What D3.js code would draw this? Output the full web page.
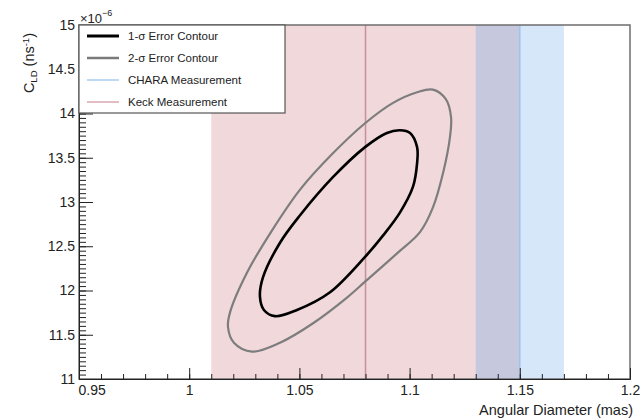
<!DOCTYPE html>
<html>
<head>
<meta charset="utf-8">
<script src="https://cdn.jsdelivr.net/npm/d3@7"></script>
<style>
  body { margin: 0; background: #fff; }
  svg { font-family: "Liberation Sans", Arial, sans-serif; }
  .axis path, .axis line { stroke: #222; }
  .axis text { font-size: 14px; fill: #222; }
</style>
</head>
<body>
<div id="chart"></div>
<script>
// values
var xTicks = [0.95, 1, 1.05, 1.1, 1.15, 1.2];
var yTicks = [11, 11.5, 12, 12.5, 13, 13.5, 14, 14.5, 15];

var keckCenter = 1.08, keckLow = 1.01, keckHigh = 1.15;
var charaCenter = 1.15, charaLow = 1.13, charaHigh = 1.17;

// 1-sigma contour (angular diameter mas, C_LD in 1e-6 ns^-1)
var sigma1Contour = [
  [1.0956, 13.81], [1.0897, 13.78], [1.0798, 13.62], [1.0652, 13.28],
  [1.0503, 12.85], [1.0412, 12.54], [1.0335, 12.15], [1.0321, 11.93],
  [1.0339, 11.78], [1.0389, 11.71], [1.0489, 11.78], [1.0639, 11.98],
  [1.0798, 12.38], [1.0879, 12.62], [1.0956, 12.88], [1.1015, 13.17],
  [1.1034, 13.44], [1.1034, 13.62], [1.1002, 13.78]
];

// 2-sigma contour
var sigma2Contour = [
  [1.1106, 14.27], [1.1034, 14.24], [1.0925, 14.12], [1.0798, 13.89],
  [1.0652, 13.55], [1.0503, 13.14], [1.0376, 12.68], [1.0262, 12.20],
  [1.0185, 11.75], [1.0176, 11.59], [1.0203, 11.41], [1.0285, 11.31],
  [1.0412, 11.41], [1.0562, 11.63], [1.0716, 11.92], [1.0798, 12.10],
  [1.0943, 12.42], [1.1047, 12.66], [1.1106, 12.94], [1.1152, 13.33],
  [1.1183, 13.73], [1.1188, 13.96], [1.1165, 14.16]
];

var legendLabels = ["1-σ Error Contour", "2-σ Error Contour", "CHARA Measurement", "Keck Measurement"];
var legendColors = ["#000000", "#7a7a7a", "#a9cdef", "#d9a9b0"];
var legendWidths = [3, 2.5, 1.5, 1.5];

var width = 642, height = 419;
var margin = {top: 25, right: 12, bottom: 40, left: 79};

var svg = d3.select("#chart").append("svg")
  .attr("width", width)
  .attr("height", height);

var x = d3.scaleLinear().domain([0.95, 1.2]).range([margin.left, width - margin.right]);
var y = d3.scaleLinear().domain([11, 15]).range([height - margin.bottom, margin.top]);

var plotTop = y(15), plotBottom = y(11);

// measurement bands, overlap drawn in its own blended colour
function band(lo, hi, colour) {
  svg.append("rect")
    .attr("x", x(lo)).attr("y", plotTop)
    .attr("width", x(hi) - x(lo)).attr("height", plotBottom - plotTop)
    .attr("fill", colour);
}
band(keckLow, keckHigh, "#f0d8db");
band(charaLow, charaHigh, "#d5e7f8");
band(Math.max(keckLow, charaLow), Math.min(keckHigh, charaHigh), "#c6c9de");

svg.append("line")
  .attr("x1", x(keckCenter)).attr("x2", x(keckCenter))
  .attr("y1", plotTop).attr("y2", plotBottom)
  .attr("stroke", "#c8909a").attr("stroke-width", 1.5);
svg.append("line")
  .attr("x1", x(charaCenter)).attr("x2", x(charaCenter))
  .attr("y1", plotTop).attr("y2", plotBottom)
  .attr("stroke", "#9fc2ec").attr("stroke-width", 1.5);

// contours
var contourLine = d3.line()
  .x(function(d){ return x(d[0]); })
  .y(function(d){ return y(d[1]); })
  .curve(d3.curveCatmullRomClosed.alpha(0.5));

svg.append("path").datum(sigma2Contour)
  .attr("d", contourLine)
  .attr("fill", "none").attr("stroke", "#7d7d7d").attr("stroke-width", 2.2);
svg.append("path").datum(sigma1Contour)
  .attr("d", contourLine)
  .attr("fill", "none").attr("stroke", "#000").attr("stroke-width", 2.6);

// frame
svg.append("rect")
  .attr("x", x(0.95)).attr("y", plotTop)
  .attr("width", x(1.2) - x(0.95)).attr("height", plotBottom - plotTop)
  .attr("fill", "none").attr("stroke", "#6e6e6e").attr("stroke-width", 1.5);

// x axis, ticks pointing up into the plot
var xMinor = d3.range(95, 121).map(function(d){ return d / 100; });
svg.append("g").attr("class", "axis")
  .attr("transform", "translate(0," + plotBottom + ")")
  .call(d3.axisBottom(x).tickValues(xMinor).tickFormat("").tickSize(-5).tickSizeOuter(0));
var xAxis = svg.append("g").attr("class", "axis")
  .attr("transform", "translate(0," + plotBottom + ")")
  .call(d3.axisBottom(x).tickValues(xTicks).tickSize(-11).tickSizeOuter(0).tickPadding(5)
    .tickFormat(function(d){ return d3.format("")(d); }));
xAxis.selectAll(".tick text").attr("dy", "0.75em");
xAxis.selectAll(".tick").filter(function(d){ return d === 0.95; })
  .select("text").attr("text-anchor", "start").attr("x", -1);

// y axis, ticks pointing right
var yMinor = d3.range(220, 301).map(function(d){ return d / 20; });
svg.append("g").attr("class", "axis")
  .attr("transform", "translate(" + x(0.95) + ",0)")
  .call(d3.axisLeft(y).tickValues(yMinor).tickFormat("").tickSize(-7).tickSizeOuter(0));
svg.append("g").attr("class", "axis")
  .attr("transform", "translate(" + x(0.95) + ",0)")
  .call(d3.axisLeft(y).tickValues(yTicks).tickSize(-14).tickSizeOuter(0).tickPadding(4)
    .tickFormat(function(d){ return d3.format("")(d); }))
  .selectAll(".tick text").attr("font-size", 14.5);

// exponent label
var expo = svg.append("text")
  .attr("x", x(0.95) + 1).attr("y", plotTop - 2)
  .attr("font-size", 13).attr("fill", "#222");
expo.append("tspan").text("×10");
expo.append("tspan").attr("dy", -7).attr("font-size", 9).text("−6");

// axis titles
svg.append("text")
  .attr("x", 633).attr("y", 415)
  .attr("text-anchor", "end")
  .attr("font-size", 14.5).attr("fill", "#222")
  .text("Angular Diameter (mas)");

var yTitle = svg.append("text")
  .attr("transform", "translate(34,33) rotate(-90)")
  .attr("text-anchor", "end")
  .attr("font-size", 14.5).attr("fill", "#222");
yTitle.append("tspan").text("C");
yTitle.append("tspan").attr("font-size", 9.5).attr("dy", 3).text("LD");
yTitle.append("tspan").attr("dy", -3).text(" (ns");
yTitle.append("tspan").attr("font-size", 9.5).attr("dy", -5).text("-1");
yTitle.append("tspan").attr("dy", 5).text(")");

// legend
var legend = svg.append("g");
legend.append("rect")
  .attr("x", x(0.95)).attr("y", plotTop)
  .attr("width", 206).attr("height", 88)
  .attr("fill", "#fff").attr("stroke", "#555").attr("stroke-width", 1.2);

var rowY = d3.scalePoint().domain(legendLabels).range([plotTop + 11, plotTop + 77]);

var rows = legend.selectAll("g.row")
  .data(legendLabels)
  .enter().append("g").attr("class", "row");
rows.append("line")
  .attr("x1", x(0.95) + 8).attr("x2", x(0.95) + 40)
  .attr("y1", function(d){ return rowY(d); })
  .attr("y2", function(d){ return rowY(d); })
  .attr("stroke", function(d, i){ return legendColors[i]; })
  .attr("stroke-width", function(d, i){ return legendWidths[i]; });
rows.append("text")
  .attr("x", x(0.95) + 49)
  .attr("y", function(d){ return rowY(d); })
  .attr("dy", "0.35em")
  .attr("font-size", 11.5).attr("fill", "#222")
  .text(function(d){ return d; });
</script>
</body>
</html>
